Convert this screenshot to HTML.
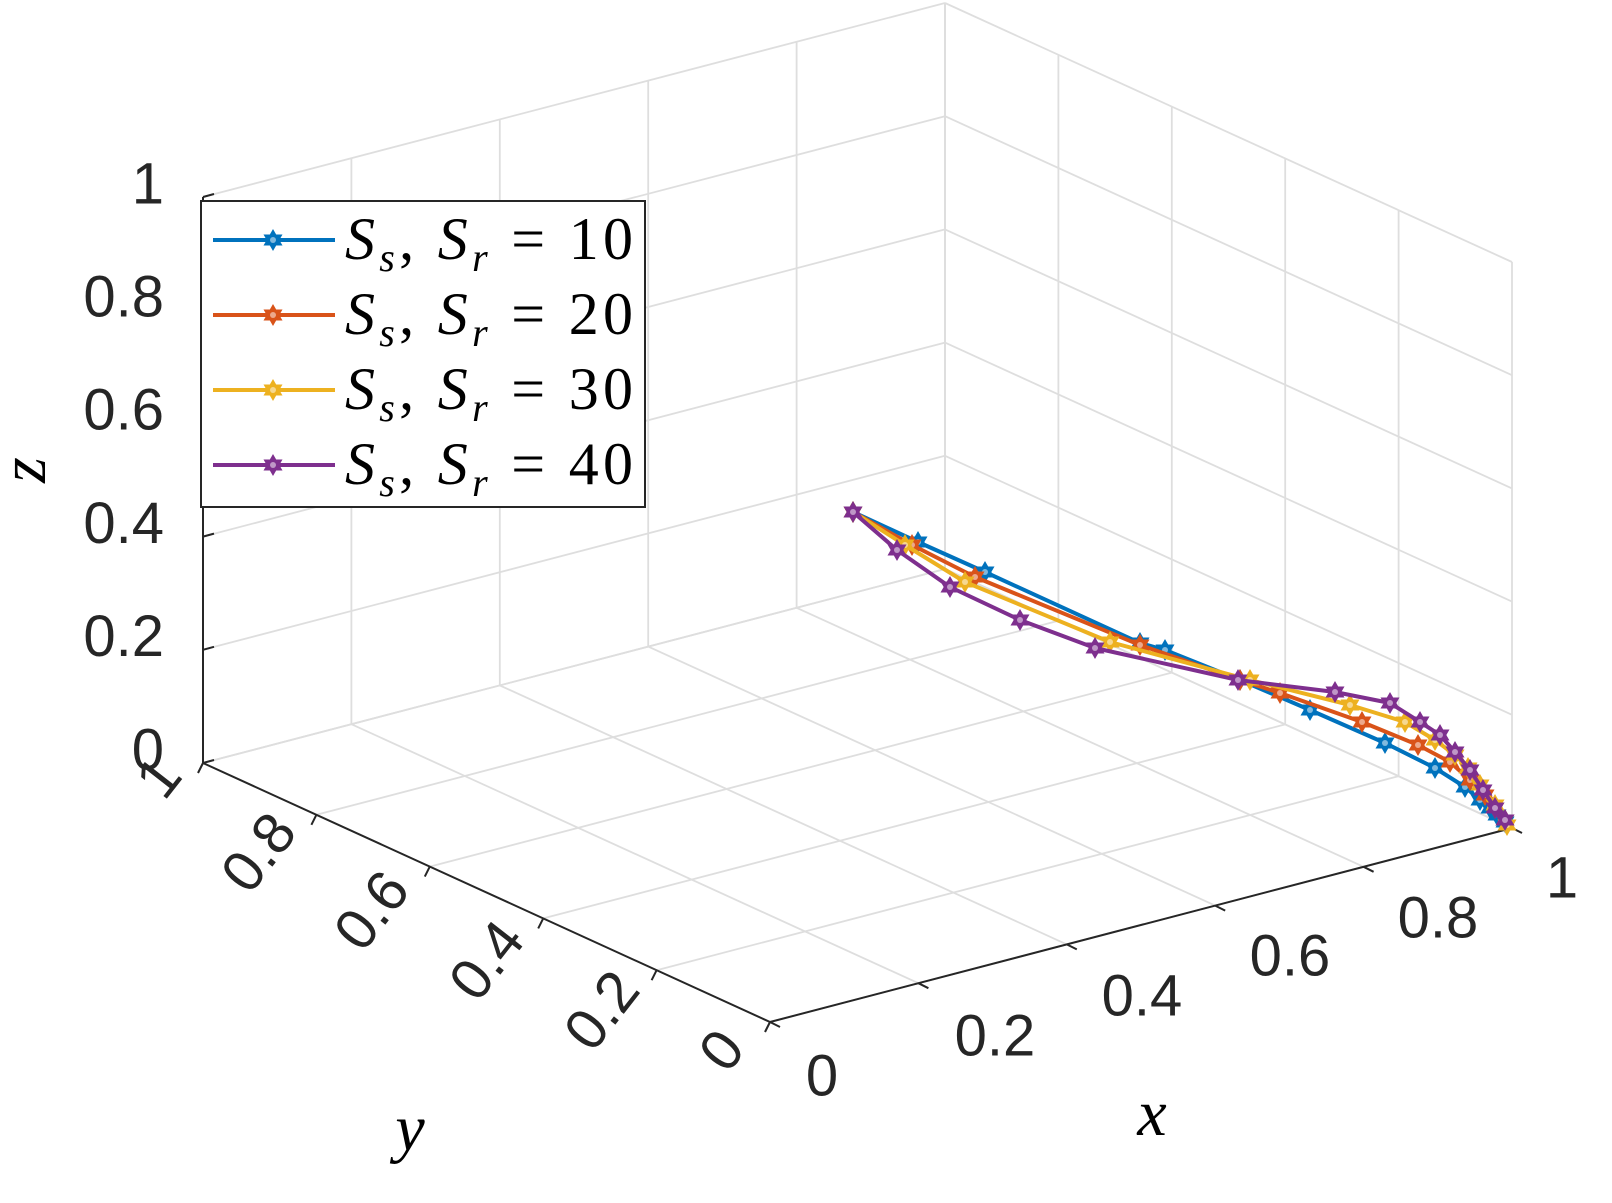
<!DOCTYPE html>
<html><head><meta charset="utf-8"><style>
html,body{margin:0;padding:0;background:#fff;}
svg{display:block;}
.t{font-family:"Liberation Sans",sans-serif;font-size:58px;fill:#262626;}
.m{font-family:"Liberation Serif",serif;font-style:italic;font-size:66px;fill:#000;}
</style></head><body>
<svg id="s" width="1612" height="1203" viewBox="0 0 1612 1203" xmlns="http://www.w3.org/2000/svg">
<defs>
<g id="st"><polygon points="0,-11 9.5,5.5 -9.5,5.5" fill="currentColor"/><polygon points="0,11 9.5,-5.5 -9.5,-5.5" fill="currentColor"/><circle r="3" fill="#fff" opacity="0.5"/></g>
</defs>
<g id="grid" stroke="#dedede" stroke-width="1.8" fill="none"></g>
<g id="axes" stroke="#262626" stroke-width="2" fill="none"></g>
<g id="data" fill="none" stroke-width="4" stroke-linejoin="round"></g>
<g id="lbl"></g>
<g>
<rect x="201" y="201" width="444" height="306" fill="#fff" stroke="#262626" stroke-width="2"/>
</g>
<g id="leg"></g>
</svg>
<script>
const NS="http://www.w3.org/2000/svg";
function P(x,y,z){return [770+742*x-567*y,1022-194*x-259*y-566*z];}
function el(p,t,a,txt){const e=document.createElementNS(NS,t);for(const k in a)e.setAttribute(k,a[k]);if(txt!==undefined)e.textContent=txt;document.getElementById(p).appendChild(e);return e;}
function ln(p,a,b){el(p,'line',{x1:a[0],y1:a[1],x2:b[0],y2:b[1]});}
for(let i=0;i<=5;i++){const v=i/5;
 ln('grid',P(v,0,0),P(v,1,0)); ln('grid',P(0,v,0),P(1,v,0));
 ln('grid',P(v,1,0),P(v,1,1)); ln('grid',P(0,1,v),P(1,1,v));
 ln('grid',P(1,v,0),P(1,v,1)); ln('grid',P(1,0,v),P(1,1,v));
}
ln('axes',P(0,0,0),P(1,0,0)); ln('axes',P(0,0,0),P(0,1,0)); ln('axes',P(0,1,0),P(0,1,1));
for(let i=0;i<=5;i++){const v=i/5;
 let a=P(v,0,0); ln('axes',a,[a[0]+10,a[1]+5]);
 a=P(0,v,0); ln('axes',a,[a[0]-5,a[1]+10]);
 a=P(0,1,v); ln('axes',a,[a[0]+11,a[1]-3]);
}
const zl=["0","0.2","0.4","0.6","0.8","1"];
zl.forEach((t,i)=>{const a=P(0,1,i/5);el('lbl','text',{class:'t',x:164,y:a[1]-9,'text-anchor':'end','dominant-baseline':'middle'},t);});
const xpos=[[822,1080],[995,1040],[1142,1000],[1290,960],[1438,922],[1562,882]];
xpos.forEach((p,i)=>el('lbl','text',{class:'t',x:p[0],y:p[1],'text-anchor':'middle','dominant-baseline':'middle'},zl[i]));
const ypos=[[725,1053],[605,1013],[490,963],[375,913],[262,855],[162,780]];
ypos.forEach((p,i)=>el('lbl','text',{class:'t',x:p[0],y:p[1],'text-anchor':'middle','dominant-baseline':'middle',transform:`rotate(-52 ${p[0]} ${p[1]})`},zl[i]));
el('lbl','text',{class:'m',x:1152,y:1135,'text-anchor':'middle'},'x');
el('lbl','text',{class:'m',x:410,y:1150,'text-anchor':'middle'},'y');
el('lbl','text',{class:'m',x:30,y:470,'text-anchor':'middle','dominant-baseline':'middle',transform:'rotate(-90 30 470)'},'z');
const S=[
['#0072BD',[[853,512],[918,542],[985,572],[1140,643],[1165,650],[1240,680],[1310,710],[1385,743],[1435,768],[1465,787],[1480,800],[1490,808],[1497,815],[1505,822]]],
['#D95319',[[853,512],[912,545],[975,577],[1140,645],[1240,680],[1280,693],[1362,722],[1418,745],[1450,762],[1470,780],[1485,795],[1495,808],[1505,820]]],
['#EDB120',[[853,512],[905,545],[965,582],[1110,642],[1250,680],[1350,705],[1405,722],[1435,740],[1455,755],[1468,768],[1480,785],[1495,805],[1507,825]]],
['#7E2F8E',[[853,512],[897,550],[950,587],[1020,620],[1095,648],[1238,680],[1335,692],[1390,703],[1420,722],[1440,735],[1455,752],[1470,770],[1483,790],[1495,808],[1505,820]]]];
S.forEach(([c,pts])=>{
 el('data','polyline',{points:pts.map(p=>p.join(',')).join(' '),stroke:c});
 pts.forEach(p=>el('data','use',{href:'#st',x:p[0],y:p[1],style:'color:'+c,stroke:'none'}));
});
const ys=[240,315,390,465],nums=['10','20','30','40'];
S.forEach(([c],i)=>{const y=ys[i];
 el('leg','line',{x1:213,y1:y,x2:335,y2:y,stroke:c,'stroke-width':4});
 el('leg','use',{href:'#st',x:273,y:y,style:'color:'+c});
 const t=el('leg','text',{x:345,y:y+19,'font-family':'Liberation Serif, serif','font-size':60,fill:'#000',textLength:288,lengthAdjust:'spacing'});
 t.innerHTML=`<tspan font-style="italic">S</tspan><tspan font-style="italic" font-size="40" dy="12">s</tspan><tspan dy="-12">,  </tspan><tspan font-style="italic">S</tspan><tspan font-style="italic" font-size="40" dy="12">r</tspan><tspan dy="-12">  =  ${nums[i]}</tspan>`;
});
</script>
</body></html>
